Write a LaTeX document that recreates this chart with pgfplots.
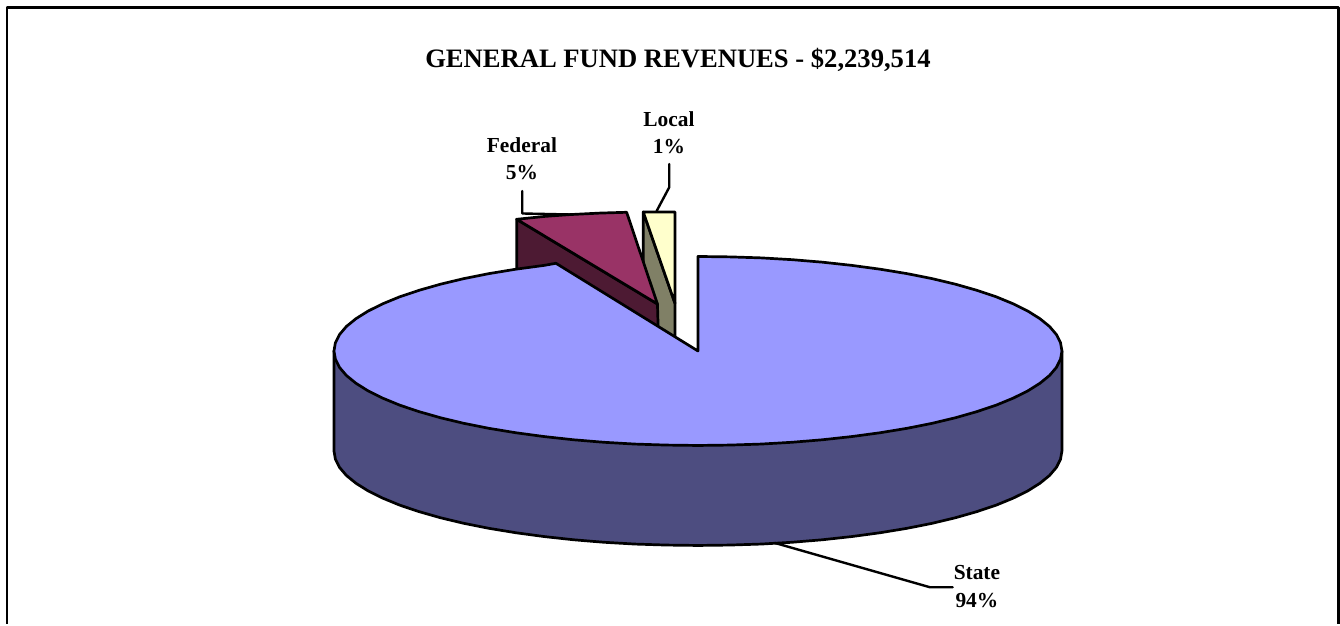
\documentclass[border=0pt]{standalone}
\usepackage{fontspec}
\setmainfont{Liberation Serif}
\usepackage{pgfplots}
\pgfplotsset{compat=1.18}
\definecolor{statetop}{HTML}{9999FF}
\definecolor{stateside}{HTML}{4D4D80}
\definecolor{fedtop}{HTML}{993366}
\definecolor{fedside}{HTML}{4D1A33}
\definecolor{localtop}{HTML}{FFFFCC}
\definecolor{localside}{HTML}{808066}
\tikzset{lab/.style={font=\fontsize{21.4}{25}\selectfont\bfseries, anchor=base, inner sep=0pt}}

\begin{document}
\begin{tikzpicture}
\begin{axis}[
    scale only axis,
    width=1340pt, height=624pt,
    xmin=0, xmax=1340, ymin=0, ymax=624,
    y dir=reverse,
    hide axis,
    clip=false,
    no markers,
    every axis plot/.append style={draw=black, line width=2.7pt, line join=round, line cap=round},
]
% hidden axis has no box of its own, so fix the page size here
\path (axis cs:0,0) rectangle (axis cs:1340,624);

% outer frame (open at the bottom, cropped there)
\addplot[line width=2.8pt, line cap=butt] coordinates {(7,624) (7,7.5) (1338.7,7.5) (1338.7,624)};

% local slice
\addplot[fill=localside] coordinates {(643.3,212) (675,303.3) (675,360) (643.3,360)} --cycle;
\addplot[fill=localtop] coordinates {(643.3,212) (675,212) (675,303.3)} --cycle;

% federal slice
\addplot[fill=fedside] coordinates {(516.7,219.3) (657.5,304) (658.7,345) (516.7,300)} --cycle;
\addplot[fill=fedtop] coordinates {(516.7,219.3) (545,216.4) (570,214.6) (600,213.1) (626.7,212.3) (657.5,304)} --cycle;

% state slice: side wall, then top
\addplot[fill=stateside] coordinates {
    (1062,351) (1062,451) (1060.6,459.2) (1056.5,467.4) (1049.6,475.5) (1040,483.3) (1027.9,490.9)
    (1013.2,498.2) (996.2,505.2) (976.8,511.7) (955.4,517.8) (932,523.4) (906.8,528.4)
    (880,532.8) (851.8,536.6) (822.5,539.8) (792.2,542.3) (761.2,544.1) (729.7,545.1)
    (698,545.5) (666.3,545.1) (634.8,544.1) (603.8,542.3) (573.5,539.8) (544.2,536.6)
    (516,532.8) (489.2,528.4) (464,523.4) (440.6,517.8) (419.2,511.7) (399.8,505.2)
    (382.8,498.2) (368.1,490.9) (356,483.3) (346.4,475.5) (339.5,467.4) (335.4,459.2)
    (334,451) (334,351)} --cycle;
\addplot[fill=statetop] coordinates {
    (698,351) (698,256.5) (729.7,256.9) (761.2,257.9) (792.2,259.7) (822.5,262.2) (851.8,265.4)
    (880,269.2) (906.8,273.6) (932,278.6) (955.4,284.2) (976.8,290.3) (996.2,296.8)
    (1013.2,303.8) (1027.9,311.1) (1040,318.7) (1049.6,326.5) (1056.5,334.6) (1060.6,342.8)
    (1062,351) (1060.6,359.2) (1056.5,367.4) (1049.6,375.5) (1040,383.3) (1027.9,390.9)
    (1013.2,398.2) (996.2,405.2) (976.8,411.7) (955.4,417.8) (932,423.4) (906.8,428.4)
    (880,432.8) (851.8,436.6) (822.5,439.8) (792.2,442.3) (761.2,444.1) (729.7,445.1)
    (698,445.5) (666.3,445.1) (634.8,444.1) (603.8,442.3) (573.5,439.8) (544.2,436.6)
    (516,432.8) (489.2,428.4) (464,423.4) (440.6,417.8) (419.2,411.7) (399.8,405.2)
    (382.8,398.2) (368.1,390.9) (356,383.3) (346.4,375.5) (339.5,367.4) (335.4,359.2)
    (334,351) (335.4,342.8) (339.5,334.6) (346.4,326.5) (356,318.7) (368.1,311.1)
    (382.8,303.8) (399.8,296.8) (419.2,290.3) (440.6,284.2) (464,278.6) (489.2,273.6)
    (516,269.2) (544.2,265.4) (556,263.3)} --cycle;

% leader lines
\addplot[line width=2.4pt] coordinates {(522.3,191) (522.3,213.5) (570,214.5)};
\addplot[line width=2.4pt] coordinates {(669.3,164) (669.3,187.3) (656.7,211)};
\addplot[line width=2.4pt] coordinates {(775,543) (930,587.3) (952.7,587.3)};

% texts
\node[lab, font=\fontsize{26.6}{30}\selectfont\bfseries] at (axis cs:678,68) {GENERAL FUND REVENUES - \$2,239,514};
\node[lab] at (axis cs:522,152.5) {Federal};
\node[lab] at (axis cs:522,180) {5\%};
\node[lab] at (axis cs:669,126.5) {Local};
\node[lab] at (axis cs:669,154) {1\%};
\node[lab] at (axis cs:977,580) {State};
\node[lab] at (axis cs:977,608) {94\%};
\end{axis}
\end{tikzpicture}
\end{document}
